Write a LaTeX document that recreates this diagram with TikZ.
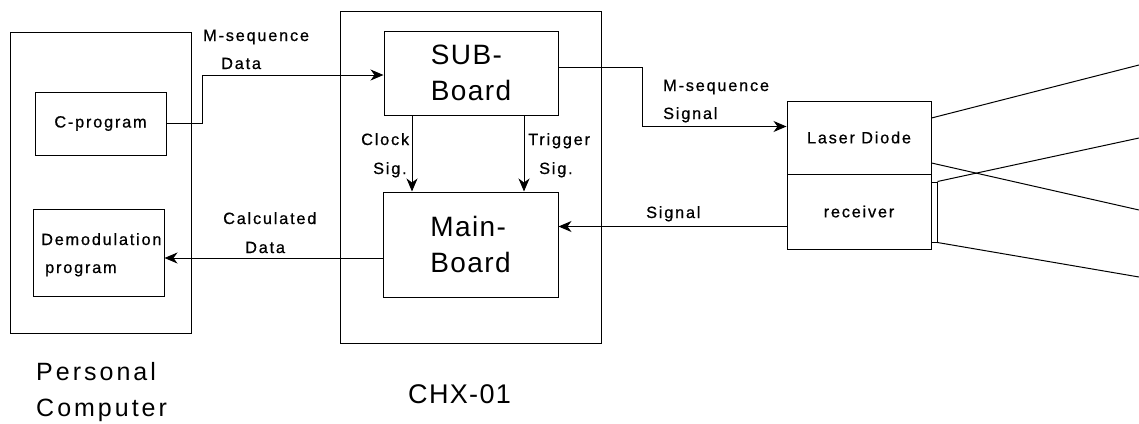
\documentclass[tikz,border=0pt]{standalone}
\usepackage{fontspec}
\setmainfont{Liberation Sans}
\newfontfamily\lblfont[LetterSpace=11,FakeBold=0.7]{Liberation Sans}
\newfontfamily\bigfont[LetterSpace=5]{Liberation Sans}
\newfontfamily\capfont[LetterSpace=12]{Liberation Sans}
\usetikzlibrary{arrows.meta}
\tikzset{
  box/.style={draw, line width=1pt, inner sep=0pt},
  lblf/.style={font=\lblfont\fontsize{16.3}{28}\selectfont},
  lbl/.style={lblf, inner sep=0pt, anchor=base west},
  bigtxt/.style={font=\bigfont\fontsize{28}{36}\selectfont, align=left},
  captxt/.style={font=\capfont\fontsize{25}{37}\selectfont, inner sep=0pt, anchor=base west},
  arr/.style={line width=1pt, -{Stealth[length=13pt,width=11pt,inset=4pt]}},
  wire/.style={line width=1pt}
}
\begin{document}
\begin{tikzpicture}[x=1pt,y=-1pt]
\useasboundingbox (0,0) rectangle (1139,423);
% outer boxes
\node[box, minimum width=181pt, minimum height=301pt] (pc) at (100.5,182.5) {};
\node[box, minimum width=261pt, minimum height=332pt] (chx) at (470.5,177) {};
% PC inner boxes
\node[box, minimum width=131pt, minimum height=63pt, lblf] (cprog) at (100.5,123.5) {C-program};
\node[box, minimum width=131pt, minimum height=87pt] (demod) at (98.5,252.5) {};
\node[lbl] (demodA) at (41,245) {Demodulation};
\node[lbl] (demodB) at (45,273) {program};
% CHX inner boxes
\node[box, minimum width=174pt, minimum height=84pt, bigtxt] (sub) at (471,73) {SUB-\\Board};
\node[box, minimum width=175pt, minimum height=105pt, bigtxt] (main) at (470.5,244.5) {Main-\\Board};
% laser / receiver
\node[box, minimum width=144pt, minimum height=73pt, lblf] (laser) at (859,137.5) {Laser Diode};
\node[box, minimum width=144pt, minimum height=75pt, lblf] (recv) at (859,211.5) {receiver};
\node[box, minimum width=6pt, minimum height=60pt] (win) at (934,212) {};
% connectors
\draw[arr] (cprog.east) -- ++(36,0) |- ([yshift=-2pt]sub.west);
\draw[arr] ([yshift=6pt]sub.east) -- ++(84,0) |- ([yshift=11pt]laser.west);
\draw[arr] ([xshift=-59pt]sub.south) -- ([xshift=-59pt]sub.south |- main.north);
\draw[arr] ([xshift=53pt]sub.south) -- ([xshift=53pt]sub.south |- main.north);
\draw[arr] ([yshift=-15pt]recv.west) coordinate (sg) -- (sg -| main.east);
\draw[arr] ([yshift=-13.5pt]main.west) coordinate (cd) -- (cd -| demod.east);
% beams
\coordinate (r1) at (1139,65);
\coordinate (r2) at (1139,210);
\coordinate (r3) at (1139,138);
\coordinate (r4) at (1139,277);
\draw[wire] ([yshift=19.5pt]laser.east) -- (r1);
\draw[wire] ([yshift=-25.5pt]laser.east) -- (r2);
\draw[wire] (win.north east) -- (r3);
\draw[wire] (win.south east) -- (r4);
% labels
\node[lbl] (l1) at (203,41) {M-sequence};
\node[lbl] (l2) at (221,69) {Data};
\node[lbl] (l3) at (663,91) {M-sequence};
\node[lbl] (l4) at (663,119) {Signal};
\node[lbl] (l5) at (361,145) {Clock};
\node[lbl] (l6) at (373,174) {Sig.};
\node[lbl] (l7) at (528,145) {Trigger};
\node[lbl] (l8) at (539,174) {Sig.};
\node[lbl] (l9) at (646,218) {Signal};
\node[lbl] (l10) at (223,224) {Calculated};
\node[lbl] (l11) at (245,253) {Data};
\node[captxt] (t1) at (36,380) {Personal};
\node[captxt] (t2) at (36,416) {Computer};
\node[font=\bigfont\fontsize{27}{36}\selectfont, inner sep=0pt, anchor=base west] (t3) at (408,403) {CHX-01};
\end{tikzpicture}
\end{document}
